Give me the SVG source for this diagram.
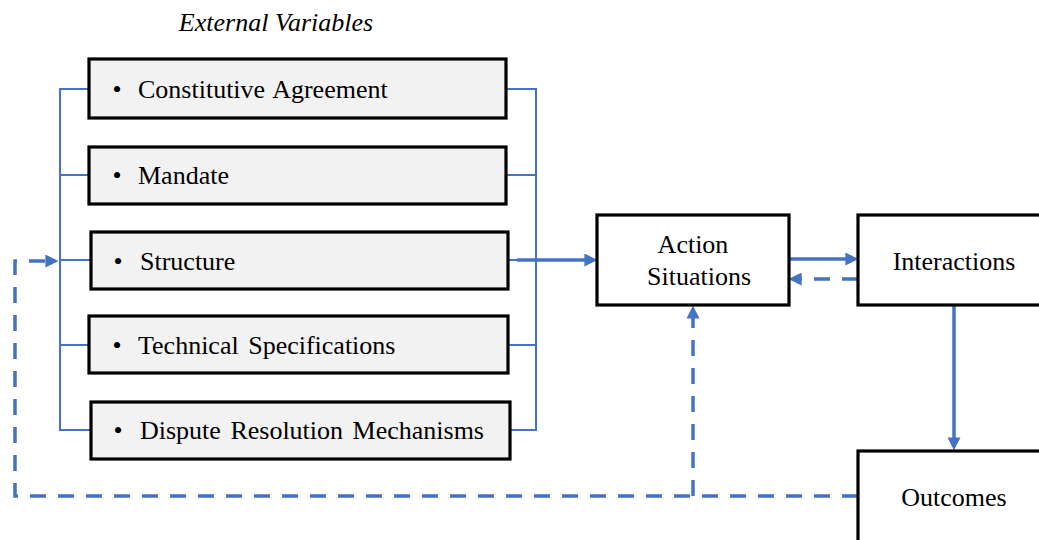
<svg xmlns="http://www.w3.org/2000/svg" width="1039" height="540" viewBox="0 0 1039 540">
<style>
.t{font-family:"Liberation Serif","Times New Roman",serif;font-size:26px;fill:#000}
.item{fill:#F2F2F2;stroke:#000;stroke-width:3.2}
.box{fill:#fff;stroke:#000;stroke-width:3.2}
.br{fill:none;stroke:#4472C4;stroke-width:2}
.ar{fill:none;stroke:#4472C4;stroke-width:3.5}
.da{fill:none;stroke:#4472C4;stroke-width:3.5;stroke-dasharray:16 12}
</style>
<defs>
<marker id="ah" viewBox="0 0 10 10" refX="2" refY="5" markerWidth="13" markerHeight="13" markerUnits="userSpaceOnUse" orient="auto">
<path d="M0,0 L10,5 L0,10 z" fill="#4472C4"/>
</marker>
</defs>
<rect width="1039" height="540" fill="#fff"/>
<text class="t" x="276" y="31" text-anchor="middle" font-style="italic">External Variables</text>
<g id="connectors">
<path class="br" d="M90,89 H60 V430 H91 M60,175 H90 M60,260 H91 M60,345 H90"/>
<path class="br" d="M506,89 H536 V430 H510 M506,175 H536 M508,345 H536 M508,260 H536"/>
<path class="ar" d="M517,260 H587" marker-end="url(#ah)"/>
<path class="ar" d="M789,259 H848" marker-end="url(#ah)"/>
<path class="da" d="M858,279 H799" marker-end="url(#ah)"/>
<path class="ar" d="M954,306 V440" marker-end="url(#ah)"/>
<path class="da" d="M858,496 H15 V261 H48" marker-end="url(#ah)"/>
<path class="da" d="M693,496 V316" marker-end="url(#ah)"/>
</g>
<g id="constitutive-agreement">
<rect class="item" x="89" y="59" width="417" height="59"/>
<text class="t" x="117" y="98" text-anchor="middle">•</text>
<text class="t" x="138" y="98" word-spacing="2">Constitutive Agreement</text>
</g>
<g id="mandate">
<rect class="item" x="89" y="147" width="417" height="57"/>
<text class="t" x="117" y="184" text-anchor="middle">•</text>
<text class="t" x="138" y="184">Mandate</text>
</g>
<g id="structure">
<rect class="item" x="91" y="232" width="417" height="57"/>
<text class="t" x="118" y="270" text-anchor="middle">•</text>
<text class="t" x="140" y="270">Structure</text>
</g>
<g id="technical-specifications">
<rect class="item" x="89" y="316" width="419" height="57"/>
<text class="t" x="117" y="354" text-anchor="middle">•</text>
<text class="t" x="138" y="354" word-spacing="3">Technical Specifications</text>
</g>
<g id="dispute-resolution">
<rect class="item" x="91" y="402" width="419" height="57"/>
<text class="t" x="118" y="439" text-anchor="middle">•</text>
<text class="t" x="140" y="439" word-spacing="3">Dispute Resolution Mechanisms</text>
</g>
<g id="action-situations">
<rect class="box" x="597" y="215" width="192" height="90"/>
<text class="t" x="693" y="253" text-anchor="middle">Action</text>
<text class="t" x="699" y="285" text-anchor="middle">Situations</text>
</g>
<g id="interactions">
<rect class="box" x="858" y="215" width="200" height="90"/>
<text class="t" x="954" y="270" text-anchor="middle">Interactions</text>
</g>
<g id="outcomes">
<rect class="box" x="858" y="451" width="200" height="100"/>
<text class="t" x="954" y="506" text-anchor="middle">Outcomes</text>
</g>
</svg>
